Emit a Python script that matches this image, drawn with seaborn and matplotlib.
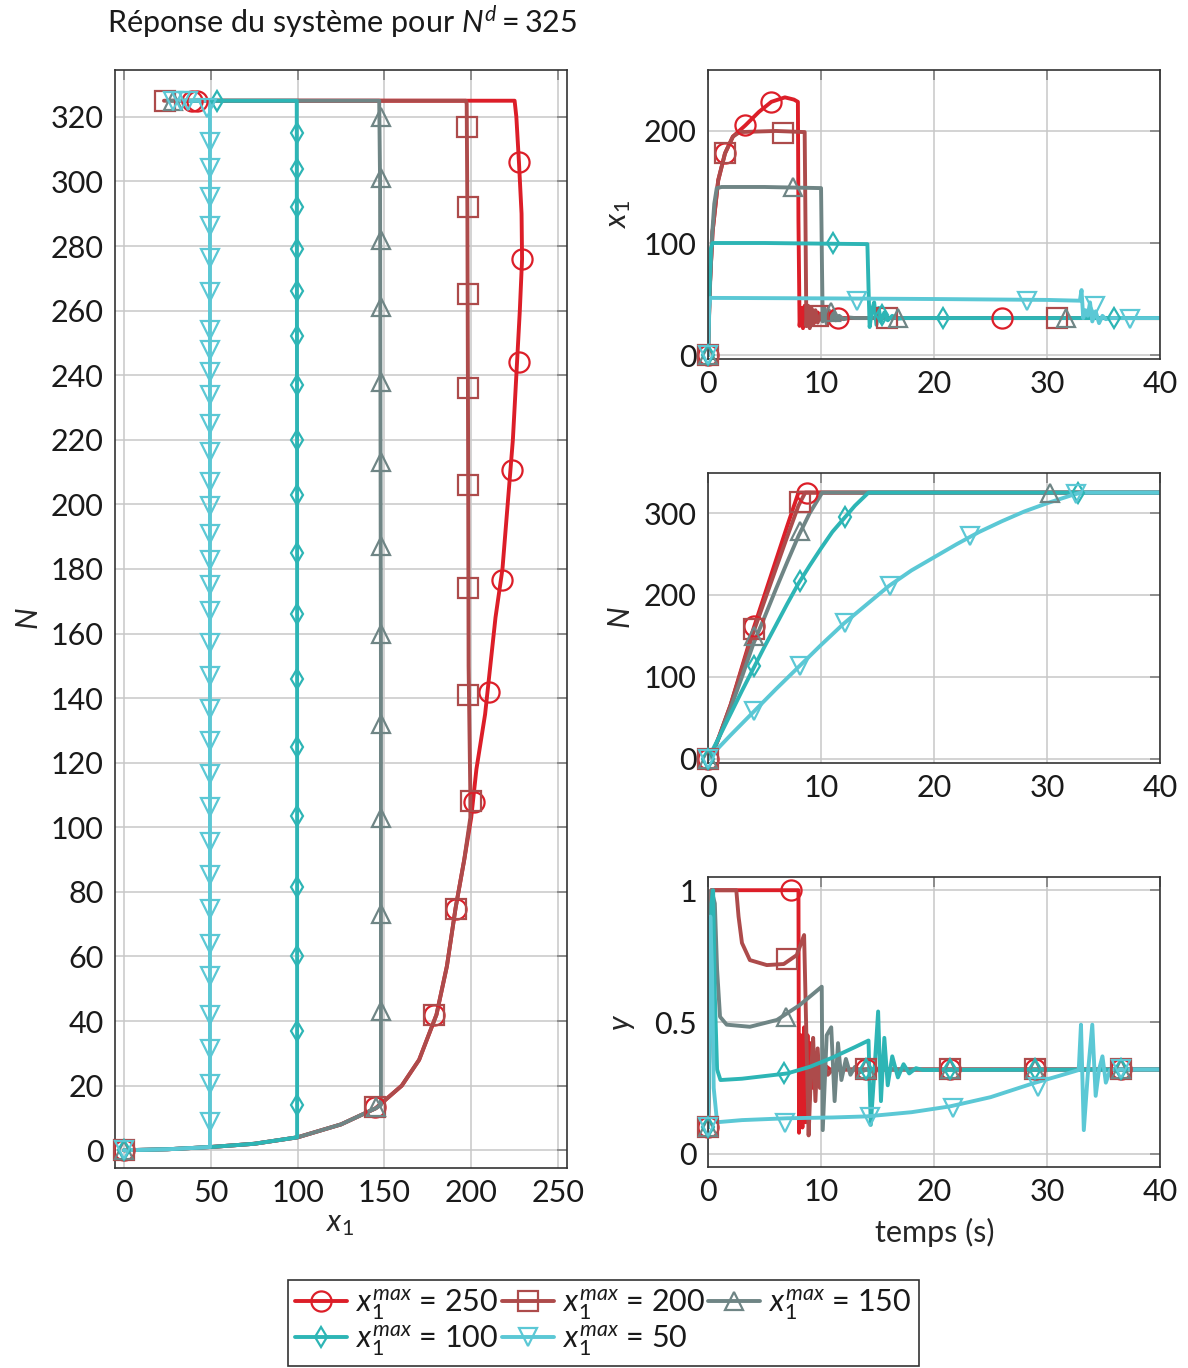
import matplotlib
matplotlib.use('Agg')
import matplotlib.pyplot as plt
from matplotlib.lines import Line2D
import seaborn as sns

## series keys (x1 max) and styles
keys = [250, 200, 150, 100, 50]
colors = {250: '#dc1e28', 200: '#ad4b4b', 150: '#6f8585', 100: '#2db5b5', 50: '#5bc8d5'}
markers = {250: 'o', 200: 's', 150: '^', 100: 'd', 50: 'v'}
msizes = {250: 14.5, 200: 14, 150: 13, 100: 10, 50: 12.5}

## phase plane N vs x1 (lines)
ph_x1_250 = [0, 25, 50, 75, 100, 125, 145, 160, 170, 180, 186, 191, 196, 200, 203, 208, 211, 214, 218, 221, 224, 226, 228, 229.3, 229, 227.5, 226, 225, 150, 100, 60, 40]
ph_n_250 = [0, 0.3, 1, 2, 4, 8, 13, 20, 28, 42, 57, 75, 90, 103, 118, 135, 150, 165, 180, 200, 220, 240, 260, 276, 290, 306, 320, 325, 325, 325, 325, 325]
ph_x1_200 = [0, 25, 50, 75, 100, 125, 145, 160, 170, 180, 186, 191, 196, 199.5, 199.5, 198.5, 198.2, 197.8, 197.4, 197, 150, 100, 50, 23]
ph_n_200 = [0, 0.3, 1, 2, 4, 8, 13, 20, 28, 42, 57, 75, 90, 103, 110, 150, 220, 290, 324, 325, 325, 325, 325, 325]
ph_x1_150 = [0, 25, 50, 75, 100, 125, 145, 148, 148, 147.5, 147, 100, 50, 25]
ph_n_150 = [0, 0.3, 1, 2, 4, 8, 13, 14, 150, 300, 325, 325, 325, 325]
ph_x1_100 = [0, 25, 50, 75, 99.7, 99.7, 99.5, 60, 35]
ph_n_100 = [0, 0.3, 1, 2, 4, 200, 325, 325, 325]
ph_x1_50 = [0, 25, 49.5, 49.5, 49.5, 30]
ph_n_50 = [0, 0.3, 1, 200, 325, 325]

## phase plane marks
phm_x1_250 = [0, 144.6, 178.6, 191, 201.6, 210, 217.7, 223.5, 227.5, 229.3, 227.5, 39, 42]
phm_n_250 = [0, 13.3, 41.8, 74.7, 107.8, 142, 176.6, 210.7, 244, 276, 306, 325, 325]
phm_x1_200 = [0, 144.6, 178.6, 191, 200, 198.2, 198.2, 198.2, 198.2, 198.2, 198.2, 197.6, 23.5]
phm_n_200 = [0, 13.3, 41.8, 74.7, 108, 141, 174, 206, 236, 265, 292, 317, 325]
phm_x1_150 = [0, 145] + [148] * 12 + [28]
phm_n_150 = [0, 13.3, 43, 73, 103, 132, 160, 187, 213, 238, 261, 282, 301, 320, 325]
phm_x1_100 = [0] + [99.7] * 18 + [53.6]
phm_n_100 = [0, 14, 37, 60, 81.5, 103.5, 125, 146, 166, 185, 203, 220, 237, 252, 266, 279, 292, 304, 315, 325]
phm_x1_50 = [0] + [49.5] * 33 + [47.8, 37, 33, 28]
phm_n_50 = [0, 8.7, 20.4, 31.3, 41.8, 53.9, 63.8, 74.7, 85.2, 95.4, 106.3, 116.5, 126.7, 136.6, 146.8, 157.1, 167, 175, 182.8,
            190.8, 199.5, 206.9, 216.2, 224.9, 233.9, 241, 247.8, 254, 265.8, 276.3, 286.2, 295.2, 304.2, 312.3, 322.8, 325, 325, 325]

## x1 vs time
x1_t_250 = [0, 0.15, 0.4, 0.9, 1.5, 2.2, 3.3, 4.5, 5.6, 6.8, 7.6, 7.95, 8.0, 8.1, 8.25, 8.4, 8.55, 8.7, 8.85, 9.0, 9.2, 9.4, 9.7, 10.1, 10.6, 11.2, 12, 40]
x1_v_250 = [0, 60, 110, 156, 180, 195, 205, 217, 226, 230, 228, 226, 120, 26, 42, 24, 44, 26, 42, 28, 40, 29, 38, 31, 35, 32, 33, 33]
x1_t_200 = [0, 0.15, 0.4, 0.9, 1.5, 2.2, 2.8, 6, 8.55, 8.62, 8.7, 8.85, 9.0, 9.15, 9.3, 9.5, 9.7, 10, 10.4, 10.9, 11.5, 12.5, 40]
x1_v_200 = [0, 60, 110, 156, 180, 195, 199, 200, 199, 120, 26, 44, 24, 42, 27, 40, 29, 37, 31, 35, 32, 33, 33]
x1_t_150 = [0, 0.15, 0.35, 0.55, 0.77, 1.2, 5, 10.0, 10.08, 10.15, 10.3, 10.5, 10.7, 10.9, 11.1, 11.3, 11.6, 12.0, 12.5, 13, 40]
x1_v_150 = [0, 55, 106, 135, 149, 150, 150, 149, 80, 30, 42, 28, 40, 31, 38, 31, 35, 32, 33.5, 33, 33]
x1_t_100 = [0, 0.1, 0.25, 0.4, 5, 14.1, 14.2, 14.3, 14.5, 14.7, 14.9, 15.1, 15.3, 15.6, 15.9, 16.3, 16.8, 17.5, 40]
x1_v_100 = [0, 50, 95, 100, 100, 99, 60, 25, 40, 47, 27, 42, 30, 38, 31, 35, 32.5, 33, 33]
x1_t_50 = [0, 0.08, 0.2, 10, 20, 30, 32.9, 33.05, 33.2, 33.4, 33.6, 33.8, 34.0, 34.3, 34.6, 34.9, 35.2, 35.6, 40]
x1_v_50 = [0, 40, 51, 50.6, 50, 49.2, 48.5, 58, 33, 40, 35, 47, 30, 39, 28.5, 35, 32, 33, 33]

x1m_t_250 = [0, 1.5, 3.3, 5.6, 11.5, 26]
x1m_v_250 = [0, 180, 205, 226, 33, 33]
x1m_t_200 = [0, 1.5, 6.6, 9.7, 15.8, 30.9]
x1m_v_200 = [0, 180, 198, 35, 33, 33]
x1m_t_150 = [0, 7.55, 10.9, 16.8, 31.7]
x1m_v_150 = [0, 150, 38, 33, 33]
x1m_t_100 = [0, 11.1, 15.4, 20.8, 35.9]
x1m_v_100 = [0, 100, 36, 33, 33]
x1m_t_50 = [0, 13.2, 28.2, 34.2, 37.3]
x1m_v_50 = [0, 48, 48, 44, 32]

## N vs time
n_t_250 = [0, 0.5, 1, 2, 3, 4, 5, 6, 7, 8.0, 40]
n_v_250 = [0, 10, 28, 66, 112, 158, 200, 242, 284, 325, 325]
n_t_200 = [0, 0.5, 1, 2, 3, 4, 5, 6, 7, 8, 8.6, 40]
n_v_200 = [0, 10, 28, 66, 110, 154, 193, 232, 271, 309, 325, 325]
n_t_150 = [0, 0.5, 1, 2, 3, 4, 5, 6, 7, 8, 9, 10.1, 40]
n_v_150 = [0, 10, 27, 62, 100, 140, 173, 207, 240, 272, 300, 325, 325]
n_t_100 = [0, 1, 2, 3, 4, 5, 6, 7, 8, 9, 10, 11, 12, 13, 14.2, 40]
n_v_100 = [0, 27, 55, 83, 110, 137, 163, 189, 214, 236, 257, 277, 293, 309, 325, 325]
n_t_50 = [0, 2, 4, 6, 8, 10, 12, 14, 16, 18, 20, 22, 24, 26, 28, 30, 32, 33, 40]
n_v_50 = [0, 29, 57, 85, 112, 139, 165, 188, 211, 230, 246, 262, 277, 290, 302, 312, 321, 325, 325]

nm_t_250 = [0, 4.1, 8.8]
nm_v_250 = [0, 162, 325]
nm_t_200 = [0, 4.1, 8.1]
nm_v_200 = [0, 158, 313]
nm_t_150 = [0, 4.1, 8.1, 30.3]
nm_v_150 = [0, 150, 278, 325]
nm_t_100 = [0, 4.1, 8.1, 12.1, 32.7]
nm_v_100 = [0, 113, 217, 295, 325]
nm_t_50 = [0, 4.1, 8.1, 12.1, 16.1, 23.2, 32.6]
nm_v_50 = [0, 58, 113, 166, 211, 272, 323]

## y vs time
y_t_250 = [0, 0.15, 0.3, 8.0, 8.05, 8.2, 8.35, 8.5, 8.65, 8.8, 8.95, 9.1, 9.3, 9.5, 9.8, 10.2, 10.8, 40]
y_v_250 = [0.1, 0.5, 1, 1, 0.08, 0.45, 0.1, 0.48, 0.12, 0.45, 0.2, 0.42, 0.25, 0.38, 0.3, 0.34, 0.32, 0.32]
y_t_200 = [0, 0.15, 0.3, 2.5, 2.7, 3.0, 3.7, 5.2, 6.7, 7.85, 8.5, 8.9, 9.1, 9.3, 9.5, 9.7, 9.9, 10.2, 10.6, 11, 40]
y_v_200 = [0.1, 0.5, 1, 1, 0.9, 0.8, 0.735, 0.716, 0.72, 0.754, 0.83, 0.07, 0.3, 0.44, 0.2, 0.4, 0.25, 0.36, 0.3, 0.32, 0.32]
y_t_150 = [0, 0.15, 0.3, 0.6, 0.8, 1.06, 1.65, 3.7, 6.1, 8.1, 10.06, 10.15, 10.5, 10.9, 11.2, 11.5, 11.8, 12.2, 12.6, 13, 13.5, 14, 40]
y_v_150 = [0.1, 0.5, 1, 0.95, 0.7, 0.52, 0.49, 0.482, 0.508, 0.564, 0.634, 0.09, 0.45, 0.48, 0.2, 0.42, 0.28, 0.36, 0.3, 0.33, 0.31, 0.32, 0.32]
y_t_100 = [0, 0.1, 0.3, 0.45, 0.6, 0.8, 1.1, 3, 5, 7, 9, 11, 13, 14.2, 14.4, 14.7, 15.05, 15.3, 15.6, 15.9, 16.3, 16.8, 17.3, 17.8, 18.4, 19, 40]
y_v_100 = [0.1, 0.5, 0.95, 1, 0.6, 0.32, 0.28, 0.285, 0.295, 0.305, 0.33, 0.365, 0.405, 0.43, 0.11, 0.3, 0.54, 0.2, 0.44, 0.26, 0.37, 0.29, 0.34, 0.305, 0.325, 0.318, 0.32]
y_t_50 = [0, 0.1, 0.2, 0.35, 0.5, 0.8, 3, 7, 11, 14, 18, 21.4, 25, 28.8, 31, 32.8, 33.0, 33.25, 33.6, 34.0, 34.3, 34.6, 34.9, 35.2, 35.6, 40]
y_v_50 = [0.1, 0.5, 0.9, 0.7, 0.25, 0.12, 0.128, 0.135, 0.138, 0.142, 0.158, 0.18, 0.215, 0.268, 0.295, 0.318, 0.49, 0.09, 0.3, 0.49, 0.22, 0.32, 0.37, 0.27, 0.32, 0.32]

ym_t_250 = [0, 7.3, 14.0, 21.4, 28.9, 36.5]
ym_v_250 = [0.1, 1, 0.32, 0.32, 0.32, 0.32]
ym_t_200 = [0, 7.0, 14.0, 21.4, 28.9, 36.5]
ym_v_200 = [0.1, 0.74, 0.32, 0.32, 0.32, 0.32]
ym_t_150 = [0, 6.9, 14.0, 21.4, 28.9, 36.5]
ym_v_150 = [0.1, 0.52, 0.32, 0.32, 0.32, 0.32]
ym_t_100 = [0, 6.7, 14.0, 21.4, 28.9, 36.5]
ym_v_100 = [0.1, 0.305, 0.32, 0.32, 0.32, 0.32]
ym_t_50 = [0, 6.8, 14.3, 21.7, 29.2, 36.5]
ym_v_50 = [0.1, 0.116, 0.138, 0.173, 0.255, 0.32]

phase = {250: (ph_x1_250, ph_n_250, phm_x1_250, phm_n_250), 200: (ph_x1_200, ph_n_200, phm_x1_200, phm_n_200),
         150: (ph_x1_150, ph_n_150, phm_x1_150, phm_n_150), 100: (ph_x1_100, ph_n_100, phm_x1_100, phm_n_100),
         50: (ph_x1_50, ph_n_50, phm_x1_50, phm_n_50)}
x1time = {250: (x1_t_250, x1_v_250, x1m_t_250, x1m_v_250), 200: (x1_t_200, x1_v_200, x1m_t_200, x1m_v_200),
          150: (x1_t_150, x1_v_150, x1m_t_150, x1m_v_150), 100: (x1_t_100, x1_v_100, x1m_t_100, x1m_v_100),
          50: (x1_t_50, x1_v_50, x1m_t_50, x1m_v_50)}
ntime = {250: (n_t_250, n_v_250, nm_t_250, nm_v_250), 200: (n_t_200, n_v_200, nm_t_200, nm_v_200),
         150: (n_t_150, n_v_150, nm_t_150, nm_v_150), 100: (n_t_100, n_v_100, nm_t_100, nm_v_100),
         50: (n_t_50, n_v_50, nm_t_50, nm_v_50)}
ytime = {250: (y_t_250, y_v_250, ym_t_250, ym_v_250), 200: (y_t_200, y_v_200, ym_t_200, ym_v_200),
         150: (y_t_150, y_v_150, ym_t_150, ym_v_150), 100: (y_t_100, y_v_100, ym_t_100, ym_v_100),
         50: (y_t_50, y_v_50, ym_t_50, ym_v_50)}

sns.set_style('white')
plt.rcParams['font.family'] = ['Lato', 'DejaVu Sans']
plt.rcParams['mathtext.fontset'] = 'custom'
plt.rcParams['mathtext.rm'] = 'Lato'
plt.rcParams['mathtext.it'] = 'Lato:italic'
plt.rcParams['mathtext.bf'] = 'Lato:bold'
plt.rcParams['text.color'] = '#1a1a1a'

LW = 2.8


def drawSeries(ax, data):
    for k in keys:
        x, y, mx, my = data[k]
        sns.lineplot(x=x, y=y, sort=False, estimator=None, color=colors[k], lw=LW, ax=ax,
                     solid_joinstyle='round', solid_capstyle='round')
        ax.plot(mx, my, ls='none', marker=markers[k], ms=msizes[k], mfc='none', mec=colors[k], mew=1.6,
                clip_on=False, zorder=3)


def styleAxes(ax, xlim, ylim, xticks, yticks, yticklabels=None):
    ax.set_xlim(xlim)
    ax.set_ylim(ylim)
    ax.set_xticks(xticks)
    ax.set_yticks(yticks)
    if yticklabels is not None:
        ax.set_yticklabels(yticklabels)
    ax.grid(True, color='#c8c8c8', lw=1.1)
    ax.set_axisbelow(True)
    ax.tick_params(direction='in', length=7, width=1.2, color='#808080', top=True, right=True,
                   labelsize=22, pad=8, labelcolor='#1a1a1a')
    for s in ax.spines.values():
        s.set_color('#333333')
        s.set_linewidth(1.2)
    ax.set_xlabel('')
    ax.set_ylabel('')


f = plt.figure(figsize=(11.88, 13.68), dpi=100)
ax_ph = f.add_axes([0.0968, 0.1462, 0.3805, 0.8026])
ax_x1 = f.add_axes([0.596, 0.7376, 0.3805, 0.2113])
ax_n = f.add_axes([0.596, 0.4423, 0.3805, 0.212])
ax_y = f.add_axes([0.596, 0.1469, 0.3805, 0.212])

drawSeries(ax_ph, phase)
drawSeries(ax_x1, x1time)
drawSeries(ax_n, ntime)
drawSeries(ax_y, ytime)

styleAxes(ax_ph, (-5.2, 255.2), (-5.5, 334.5), range(0, 251, 50), range(0, 321, 20))
styleAxes(ax_x1, (0, 40), (-3.5, 254.5), range(0, 41, 10), [0, 100, 200])
styleAxes(ax_n, (0, 40), (-5, 349), range(0, 41, 10), [0, 100, 200, 300])
styleAxes(ax_y, (0, 40), (-0.05, 1.05), range(0, 41, 10), [0, 0.5, 1], ['0', '0.5', '1'])

ax_ph.set_xlabel(r'$x_1$', fontsize=22)
ax_ph.xaxis.set_label_coords(0.498, -0.038)
ax_ph.set_ylabel(r'$N$', fontsize=22)
ax_ph.yaxis.set_label_coords(-0.16, 0.5)
ax_x1.set_ylabel(r'$x_1$', fontsize=22)
ax_x1.yaxis.set_label_coords(-0.166, 0.5)
ax_n.set_ylabel(r'$N$', fontsize=22)
ax_n.yaxis.set_label_coords(-0.162, 0.5)
ax_y.set_ylabel(r'$y$', fontsize=22)
ax_y.yaxis.set_label_coords(-0.157, 0.5)
ax_y.set_xlabel('temps (s)', fontsize=22)
ax_y.xaxis.set_label_coords(0.502, -0.176)

f.text(107 / 1188, 1 - 22 / 1368, r'Réponse du système pour $N^d = 325$', fontsize=22, ha='left', va='center')

## legend, row-major order for 3 columns
handles = {k: Line2D([], [], color=colors[k], lw=LW, marker=markers[k], ms=msizes[k], mfc='none',
                     mec=colors[k], mew=1.6) for k in keys}
order = [250, 100, 200, 50, 150]
leg = f.legend([handles[k] for k in order], [r'$x_1^{max}$ = %d' % k for k in order],
               loc='upper center', bbox_to_anchor=(603.5 / 1188, 1 - 1280 / 1368), ncol=3, fontsize=22,
               frameon=True, fancybox=False, edgecolor='#333333', framealpha=1, handlelength=1.7,
               handletextpad=0.3, columnspacing=0.1, borderpad=0.25, labelspacing=0.05, borderaxespad=0)
leg.get_frame().set_linewidth(1.2)

f.savefig('out.png', dpi=100)
